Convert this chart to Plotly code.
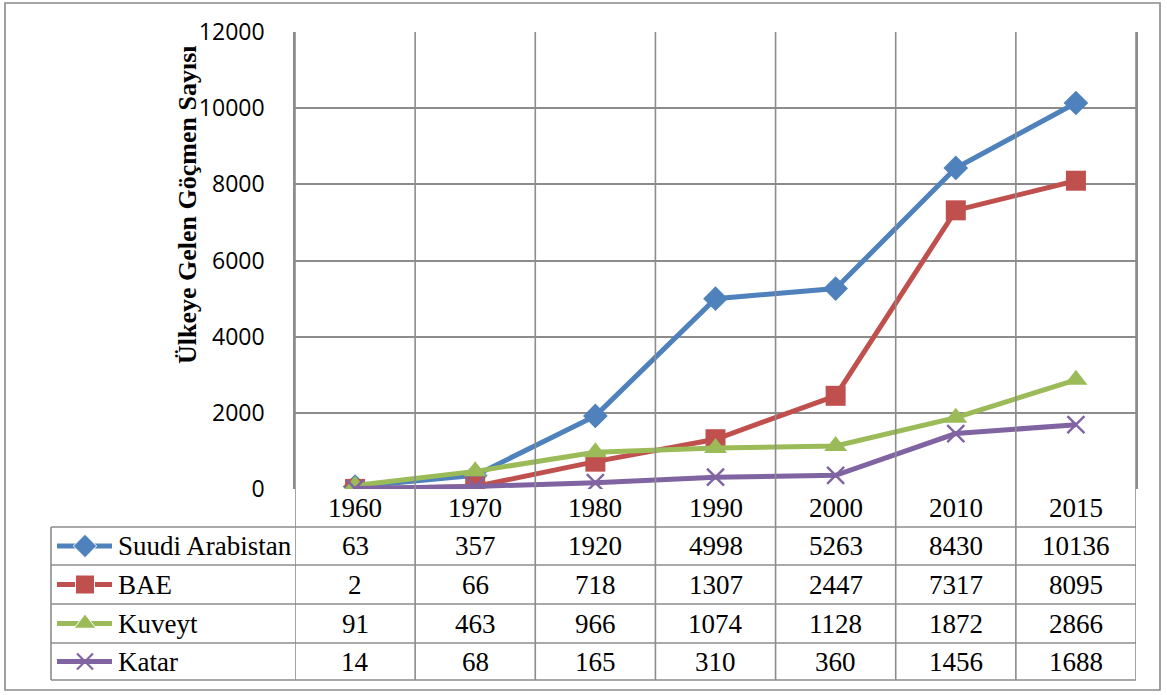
import plotly.graph_objects as go

# ---------------- data ----------------
years = ["1960", "1970", "1980", "1990", "2000", "2010", "2015"]
series_names = ["Suudi Arabistan", "BAE", "Kuveyt", "Katar"]
suudi_arabistan = [63, 357, 1920, 4998, 5263, 8430, 10136]
bae = [2, 66, 718, 1307, 2447, 7317, 8095]
kuveyt = [91, 463, 966, 1074, 1128, 1872, 2866]
katar = [14, 68, 165, 310, 360, 1456, 1688]
y_ticks = [0, 2000, 4000, 6000, 8000, 10000, 12000]
y_title = "Ülkeye Gelen Göçmen Sayısı"

series_values = [suudi_arabistan, bae, kuveyt, katar]

# ---------------- style ----------------
W, H = 1167, 695
colors = ["#4F81BD", "#C0504D", "#9BBB59", "#8064A2"]
symbols = ["diamond", "square", "triangle-up", "x-thin"]
sizes = [19, 20, 20, 17]
grid_col = "#8c8c8c"
serif = "Liberation Serif, Times New Roman, serif"
sans = "Open Sans, Arial, sans-serif"
table_font = 27

plot_l, plot_r, plot_t, plot_b = 295, 1136, 32, 489
row_edges = [527, 565, 604, 643, 680]
table_left = 51


def fx(x):
    return x / W


def fy(y):
    return 1 - y / H


xs = list(range(len(years)))
fig = go.Figure()

for name, vals, c, s, sz in zip(series_names, series_values, colors, symbols, sizes):
    marker = dict(symbol=s, size=sz, color=c, opacity=1)
    if s == "x-thin":
        marker["line"] = dict(color=c, width=2.4)
    fig.add_trace(go.Scatter(x=xs, y=vals, mode="lines+markers", name=name,
                             line=dict(color=c, width=5), marker=marker,
                             showlegend=False, xaxis="x", yaxis="y"))

# legend keys inside the data table (full-figure pixel axes)
for i, (name, c, s, sz) in enumerate(zip(series_names, colors, symbols, sizes)):
    yc = (row_edges[i] + row_edges[i + 1]) / 2
    marker = dict(symbol=s, size=[0, sz - 1, 0], color=c, opacity=1)
    if s == "x-thin":
        marker["line"] = dict(color=c, width=2.2)
    fig.add_trace(go.Scatter(x=[57, 85, 112], y=[yc, yc, yc], mode="lines+markers",
                             line=dict(color=c, width=5), marker=marker,
                             showlegend=False, xaxis="x2", yaxis="y2",
                             hoverinfo="skip"))

shapes = []
# vertical category boundaries (plot + table)
for k in range(len(years) + 1):
    shapes.append(dict(type="line", xref="x", yref="paper", x0=k - 0.5, x1=k - 0.5,
                       y0=fy(plot_t), y1=fy(row_edges[-1]),
                       line=dict(color=grid_col, width=1.6)))
# horizontal table lines
for ye in row_edges:
    shapes.append(dict(type="line", xref="paper", yref="paper", x0=fx(table_left),
                       x1=fx(plot_r), y0=fy(ye), y1=fy(ye),
                       line=dict(color=grid_col, width=1.6)))
# left table border
shapes.append(dict(type="line", xref="paper", yref="paper", x0=fx(table_left),
                   x1=fx(table_left), y0=fy(row_edges[0]), y1=fy(row_edges[-1]),
                   line=dict(color=grid_col, width=1.6)))
# outer chart border
shapes.append(dict(type="rect", xref="paper", yref="paper", x0=fx(5), x1=fx(1160),
                   y0=fy(3), y1=fy(690), line=dict(color="#8a8a8a", width=1.6)))

annotations = []
# year header
for i, yr in enumerate(years):
    annotations.append(dict(x=i, y=fy((plot_b + row_edges[0]) / 2), xref="x", yref="paper",
                            text=yr, showarrow=False, xanchor="center", yanchor="middle",
                            font=dict(family=serif, size=table_font, color="black")))
# rows
for r, (name, vals) in enumerate(zip(series_names, series_values)):
    yc = fy((row_edges[r] + row_edges[r + 1]) / 2)
    annotations.append(dict(x=fx(116), y=yc, xref="paper", yref="paper", text=name,
                            showarrow=False, xanchor="left", yanchor="middle",
                            font=dict(family=serif, size=table_font, color="black")))
    for i, v in enumerate(vals):
        annotations.append(dict(x=i, y=yc, xref="x", yref="paper", text=str(v),
                                showarrow=False, xanchor="center", yanchor="middle",
                                font=dict(family=serif, size=table_font, color="black")))
# y title
annotations.append(dict(x=fx(188), y=fy(205), xref="paper", yref="paper", text=f"<b>{y_title}</b>",
                        textangle=-90, showarrow=False, xanchor="center", yanchor="middle",
                        font=dict(family=serif, size=26, color="black")))

fig.update_layout(
    width=W, height=H,
    margin=dict(l=0, r=0, t=0, b=0, pad=0, autoexpand=False),
    paper_bgcolor="white", plot_bgcolor="rgba(0,0,0,0)",
    xaxis=dict(domain=[fx(plot_l), fx(plot_r)], range=[-0.5, len(years) - 0.5],
               showgrid=False, zeroline=False, showticklabels=False, ticks="",
               automargin=False, fixedrange=True),
    yaxis=dict(domain=[fy(plot_b), fy(plot_t)], range=[0, 12000], tickvals=y_ticks,
               tickformat="d",
               showgrid=True, gridcolor=grid_col, gridwidth=1.6, zeroline=False,
               showline=True, linecolor=grid_col, linewidth=1.6, mirror=True,
               ticks="", ticklabelstandoff=24, automargin=False,
               tickfont=dict(family=sans, size=23, color="black")),
    xaxis2=dict(domain=[0, 1], range=[0, W], visible=False, anchor="y2", automargin=False),
    yaxis2=dict(domain=[0, 1], range=[H, 0], visible=False, anchor="x2", automargin=False),
    shapes=shapes,
    annotations=annotations,
)

fig.write_html("out.html", config={"responsive": False, "displayModeBar": False},
               post_script="document.body.style.margin='0';document.body.style.overflow='hidden';")
